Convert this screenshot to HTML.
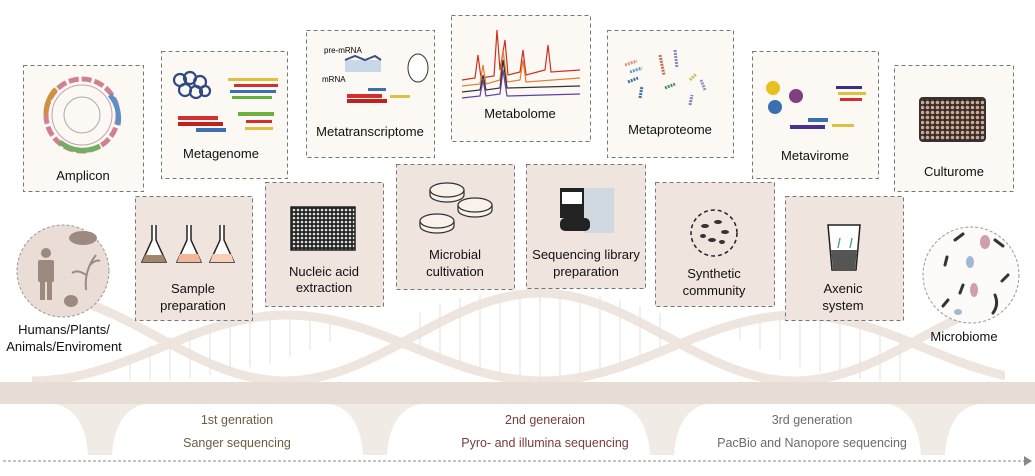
<!DOCTYPE html>
<html><head><meta charset="utf-8"><style>
body{margin:0;background:#fff}
svg{display:block}
text{font-family:"Liberation Sans",sans-serif;}
</style></head><body>
<svg width="1035" height="476" viewBox="0 0 1035 476" xmlns="http://www.w3.org/2000/svg">
<defs><clipPath id="hc"><rect x="30" y="280" width="975" height="104"/></clipPath>
<pattern id="wells" width="4" height="4" patternUnits="userSpaceOnUse"><rect width="4" height="4" fill="#222"/><circle cx="2" cy="2" r="1.3" fill="#ddd"/></pattern>
<pattern id="wells2" width="5" height="5" patternUnits="userSpaceOnUse"><rect width="5" height="5" fill="#3a2a22"/><circle cx="2.5" cy="2.5" r="1.8" fill="#c8a898"/></pattern>
</defs>
<g clip-path="url(#hc)">
<path d="M32 381 C125 381 194 315 287 315 C380 315 449 381 542 381 C635 381 704 315 797 315 C890 315 959 381 1052 381" fill="none" stroke="#eee5df" stroke-width="9"/>
<path d="M-225 381 C-132 381 -63 293 30 293 C123 293 192 381 285 381 C378 381 447 293 540 293 C633 293 702 381 795 381 C888 381 957 293 1050 293" fill="none" stroke="#eee5df" stroke-width="9"/>
</g>
<g stroke="#e6e2de" stroke-width="1">
<line x1="130" y1="355" x2="130" y2="380"/><line x1="150" y1="345" x2="150" y2="380"/><line x1="170" y1="337" x2="170" y2="380"/><line x1="190" y1="330" x2="190" y2="378"/><line x1="210" y1="325" x2="210" y2="375"/><line x1="230" y1="320" x2="230" y2="371"/><line x1="250" y1="318" x2="250" y2="367"/><line x1="270" y1="316" x2="270" y2="363"/><line x1="290" y1="316" x2="290" y2="357"/><line x1="310" y1="316" x2="310" y2="350"/><line x1="330" y1="318" x2="330" y2="342"/>
<line x1="420" y1="312" x2="420" y2="352"/><line x1="440" y1="304" x2="440" y2="360"/><line x1="460" y1="298" x2="460" y2="367"/><line x1="480" y1="295" x2="480" y2="373"/><line x1="500" y1="294" x2="500" y2="377"/><line x1="520" y1="293" x2="520" y2="380"/><line x1="540" y1="293" x2="540" y2="381"/><line x1="560" y1="293" x2="560" y2="380"/><line x1="580" y1="294" x2="580" y2="377"/><line x1="600" y1="296" x2="600" y2="373"/><line x1="620" y1="300" x2="620" y2="367"/><line x1="640" y1="306" x2="640" y2="360"/><line x1="660" y1="313" x2="660" y2="352"/>
<line x1="740" y1="320" x2="740" y2="340"/><line x1="760" y1="317" x2="760" y2="350"/><line x1="780" y1="315" x2="780" y2="360"/><line x1="800" y1="315" x2="800" y2="367"/><line x1="820" y1="316" x2="820" y2="372"/><line x1="840" y1="318" x2="840" y2="376"/><line x1="860" y1="322" x2="860" y2="379"/><line x1="880" y1="327" x2="880" y2="381"/><line x1="900" y1="333" x2="900" y2="381"/>
</g>
<rect x="0" y="382" width="1035" height="22" fill="#e7ddd5"/>
<g fill="#f1ebe6">
<path d="M55 404 Q85 410 88 455 L112 455 Q115 410 145 404 Z"/>
<path d="M330 404 Q360 410 363 455 L387 455 Q390 410 420 404 Z"/>
<path d="M617 404 Q647 410 650 455 L674 455 Q677 410 707 404 Z"/>
<path d="M888 404 Q918 410 921 455 L945 455 Q948 410 978 404 Z"/>
</g>
<text x="237" y="424" font-size="12.5" fill="#6e5c3e" text-anchor="middle">1st genration</text>
<text x="237" y="447" font-size="12.5" fill="#6e5c3e" text-anchor="middle">Sanger sequencing</text>
<text x="545" y="424" font-size="12.5" fill="#7a3b3b" text-anchor="middle">2nd generaion</text>
<text x="545" y="447" font-size="12.5" fill="#7a3b3b" text-anchor="middle">Pyro- and illumina sequencing</text>
<text x="812" y="424" font-size="12.5" fill="#6b6b6b" text-anchor="middle">3rd generation</text>
<text x="812" y="447" font-size="12.5" fill="#6b6b6b" text-anchor="middle">PacBio and Nanopore sequencing</text>
<line x1="3" y1="461" x2="1025" y2="461" stroke="#888" stroke-width="1" stroke-dasharray="3,2"/>
<path d="M1024 456 L1032 461 L1024 466 Z" fill="#888"/>

<g fill="#fcf8f4" stroke="#777" stroke-width="1" stroke-dasharray="4,3">
<rect x="23.5" y="65.5" width="120" height="126"/>
<rect x="161.5" y="51.5" width="126" height="127"/>
<rect x="306.5" y="30.5" width="128" height="127"/>
<rect x="451.5" y="15.5" width="139" height="126"/>
<rect x="607.5" y="30.5" width="126" height="127"/>
<rect x="752.5" y="51.5" width="126" height="127"/>
<rect x="894.5" y="65.5" width="119" height="126"/>
</g>
<g fill="#efe5de" stroke="#777" stroke-width="1" stroke-dasharray="4,3">
<rect x="135.5" y="196.5" width="117" height="124"/>
<rect x="265.5" y="182.5" width="118" height="124"/>
<rect x="396.5" y="164.5" width="118" height="125"/>
<rect x="526.5" y="164.5" width="119" height="124"/>
<rect x="655.5" y="182.5" width="119" height="124"/>
<rect x="785.5" y="196.5" width="118" height="124"/>
</g>
<circle cx="63" cy="271" r="46" fill="#e9ddd5" stroke="#999" stroke-dasharray="3,2"/>
<circle cx="971" cy="275" r="48" fill="#fdfbf9" stroke="#999" stroke-dasharray="3,2"/>

<circle cx="82" cy="115" r="36" fill="none" stroke="#d08090" stroke-width="5" stroke-dasharray="10,3"/>
<circle cx="82" cy="115" r="30" fill="none" stroke="#c9a0a8" stroke-width="1"/>
<circle cx="82" cy="115" r="18" fill="none" stroke="#aaa" stroke-width="1"/>
<path d="M46 115 a36 36 0 0 1 10 -26" stroke="#d09040" stroke-width="5" fill="none"/>
<path d="M110 95 a36 36 0 0 1 8 30" stroke="#5a90c8" stroke-width="5" fill="none"/>
<path d="M60 142 a36 36 0 0 0 40 4" stroke="#70b060" stroke-width="5" fill="none"/>
<g fill="none" stroke="#2f4a80" stroke-width="2.2"><circle cx="180" cy="80" r="6"/><circle cx="190" cy="78" r="6"/><circle cx="200" cy="82" r="6"/><circle cx="185" cy="90" r="6"/><circle cx="196" cy="92" r="6"/><circle cx="205" cy="91" r="5"/></g>
<g><rect x="228" y="78" width="50" height="3" fill="#e0c040"/><rect x="234" y="84" width="44" height="3" fill="#d03030"/><rect x="230" y="90" width="46" height="3" fill="#3a70b0"/><rect x="232" y="96" width="40" height="3" fill="#60b040"/>
<rect x="178" y="116" width="40" height="4" fill="#d03030"/><rect x="178" y="122" width="45" height="4" fill="#c02020"/><rect x="196" y="128" width="30" height="4" fill="#3a70b0"/>
<rect x="238" y="112" width="36" height="4" fill="#70b040"/><rect x="246" y="120" width="26" height="3" fill="#d03030"/><rect x="245" y="127" width="28" height="3" fill="#e0c040"/></g>
<text x="324" y="53" font-size="8">pre-mRNA</text><text x="322" y="82" font-size="8">mRNA</text>
<rect x="345" y="60" width="36" height="12" fill="#c8d8e8"/><path d="M345 60 l10 -4 10 4 10 -4 6 4" stroke="#405080" fill="none" stroke-width="2"/>
<ellipse cx="418" cy="68" rx="10" ry="14" fill="#fff" stroke="#333"/>
<rect x="347" y="94" width="35" height="4" fill="#d03030"/><rect x="347" y="99" width="40" height="4" fill="#c02020"/><rect x="368" y="88" width="18" height="3" fill="#3a70b0"/><rect x="390" y="95" width="20" height="3" fill="#e0c040"/>
<g fill="none" stroke-width="1.2">
<path d="M462 80 L475 78 L478 55 L481 78 L494 76 L497 30 L500 70 L505 40 L508 75 L520 72 L523 50 L526 75 L545 70 L548 45 L551 72 L580 70" stroke="#d03020"/>
<path d="M462 86 L480 84 L483 65 L486 84 L500 80 L503 50 L507 82 L520 80 L523 60 L526 82 L580 78" stroke="#e08030"/>
<path d="M462 92 L480 90 L483 75 L486 90 L500 88 L503 60 L507 88 L580 86" stroke="#333"/>
<path d="M462 98 L480 96 L483 80 L486 96 L500 94 L503 70 L507 96 L580 94" stroke="#6040a0"/>
</g>
<g stroke-width="3" fill="none" stroke-dasharray="2,1"><path d="M625 65 l12 -4" stroke="#e09080"/><path d="M630 72 l12 -4" stroke="#60a0c0"/><path d="M628 82 l10 -4" stroke="#4070a0"/><path d="M660 55 l4 20" stroke="#c07050"/><path d="M675 50 l2 18" stroke="#9080c0"/><path d="M665 88 l10 -4" stroke="#409060"/><path d="M690 80 l6 -6" stroke="#c0c060"/><path d="M705 90 l-4 -10" stroke="#9090c0"/><path d="M690 105 l2 -10" stroke="#8080c0"/><path d="M640 98 l2 -12" stroke="#4070a0"/></g>
<circle cx="773" cy="88" r="7" fill="#e8c020"/><circle cx="796" cy="96" r="7" fill="#804080"/><circle cx="775" cy="107" r="7" fill="#3a70b0"/>
<rect x="836" y="86" width="26" height="3" fill="#3a3080"/><rect x="838" y="92" width="28" height="3" fill="#e0c040"/><rect x="840" y="98" width="22" height="3" fill="#d03030"/>
<rect x="790" y="125" width="35" height="4" fill="#4a3090"/><rect x="808" y="118" width="20" height="4" fill="#3a70b0"/><rect x="832" y="124" width="22" height="3" fill="#e0c040"/>
<rect x="920" y="98" width="65" height="43" rx="3" fill="url(#wells2)" stroke="#333" stroke-width="2"/>
<g stroke="#222" stroke-width="1.5"><path d="M152 225 v15 l-10 22 h24 l-10 -22 v-15" fill="#fff"/><path d="M187 225 v15 l-10 22 h24 l-10 -22 v-15" fill="#fff"/><path d="M220 225 v15 l-10 22 h24 l-10 -22 v-15" fill="#fff"/></g>
<path d="M145 255 h18 l3 7 h-24z" fill="#a0866a"/><path d="M180 254 h18 l3 8 h-24z" fill="#f0b898"/><path d="M213 254 h18 l3 8 h-24z" fill="#f8d0b8"/>
<rect x="291" y="207" width="64" height="43" fill="url(#wells)" stroke="#222" stroke-width="1.5"/>
<g fill="#f8f2ea" stroke="#333" stroke-width="1.3"><path d="M430 190 v5 a17 7 0 0 0 34 0 v-5"/><ellipse cx="447" cy="190" rx="17" ry="7"/><path d="M458 205 v5 a17 7 0 0 0 34 0 v-5"/><ellipse cx="475" cy="205" rx="17" ry="7"/><path d="M420 221 v5 a17 7 0 0 0 34 0 v-5"/><ellipse cx="437" cy="221" rx="17" ry="7"/></g>
<rect x="560" y="188" width="34" height="30" fill="#222"/><rect x="562" y="192" width="20" height="12" fill="#fff"/><rect x="584" y="188" width="30" height="45" fill="#d0d8e0"/><rect x="560" y="218" width="30" height="13" rx="5" fill="#222"/>
<circle cx="714" cy="233" r="23" fill="none" stroke="#222" stroke-width="1.5" stroke-dasharray="4,3"/>
<g fill="#333"><ellipse cx="705" cy="226" rx="4" ry="2"/><ellipse cx="718" cy="222" rx="4" ry="2"/><ellipse cx="725" cy="232" rx="4" ry="2"/><ellipse cx="712" cy="240" rx="4" ry="2"/><ellipse cx="703" cy="236" rx="3" ry="2"/><ellipse cx="722" cy="242" rx="3" ry="2"/></g>
<path d="M828 225 h32 l-4 45 h-24z" fill="#fff" stroke="#222" stroke-width="1.5"/><path d="M831 250 h26 l-2 20 h-22z" fill="#555"/><path d="M838 248 l2 -10 M850 248 l2 -10" stroke="#5a8" stroke-width="1.5"/>
<g fill="#9c8a80"><circle cx="46" cy="253" r="5"/><rect x="38" y="260" width="16" height="22" rx="2"/><rect x="40" y="280" width="5" height="20"/><rect x="47" y="280" width="5" height="20"/><ellipse cx="83" cy="238" rx="14" ry="7"/><ellipse cx="71" cy="301" rx="7" ry="6"/></g>
<path d="M86 290 q-2 -20 10 -35 M86 275 q-8 -6 -14 -2 M90 265 q6 -6 10 -4" stroke="#9c8a80" stroke-width="2" fill="none"/>
<g fill="none" stroke="#333" stroke-width="3" stroke-linecap="round"><path d="M955 240 l8 -6"/><path d="M995 240 l8 6"/><path d="M945 265 l2 -8"/><path d="M963 285 l-3 8"/><path d="M995 295 q4 10 -2 18"/><path d="M948 300 l-5 6"/><path d="M1008 275 l-6 6"/></g>
<g><ellipse cx="985" cy="242" rx="5" ry="7" fill="#d0a0a8"/><ellipse cx="970" cy="262" rx="4" ry="6" fill="#a0b8d0"/><ellipse cx="974" cy="290" rx="4" ry="7" fill="#d0a0a8"/><ellipse cx="958" cy="312" rx="4" ry="3" fill="#a0b8d0"/></g>

<g font-size="13" fill="#111" text-anchor="middle">
<text x="83" y="180">Amplicon</text>
<text x="221" y="158">Metagenome</text>
<text x="370" y="136">Metatranscriptome</text>
<text x="520" y="118">Metabolome</text>
<text x="670" y="134">Metaproteome</text>
<text x="815" y="160">Metavirome</text>
<text x="954" y="176">Culturome</text>
<text x="193" y="293">Sample</text><text x="193" y="310">preparation</text>
<text x="324" y="276">Nucleic acid</text><text x="324" y="292">extraction</text>
<text x="455" y="259">Microbial</text><text x="455" y="276">cultivation</text>
<text x="586" y="259">Sequencing library</text><text x="586" y="276">preparation</text>
<text x="714" y="278">Synthetic</text><text x="714" y="295">community</text>
<text x="843" y="293">Axenic</text><text x="843" y="310">system</text>
<text x="64" y="334">Humans/Plants/</text><text x="64" y="351">Animals/Enviroment</text>
<text x="964" y="341">Microbiome</text>
</g>
</svg>
</body></html>
